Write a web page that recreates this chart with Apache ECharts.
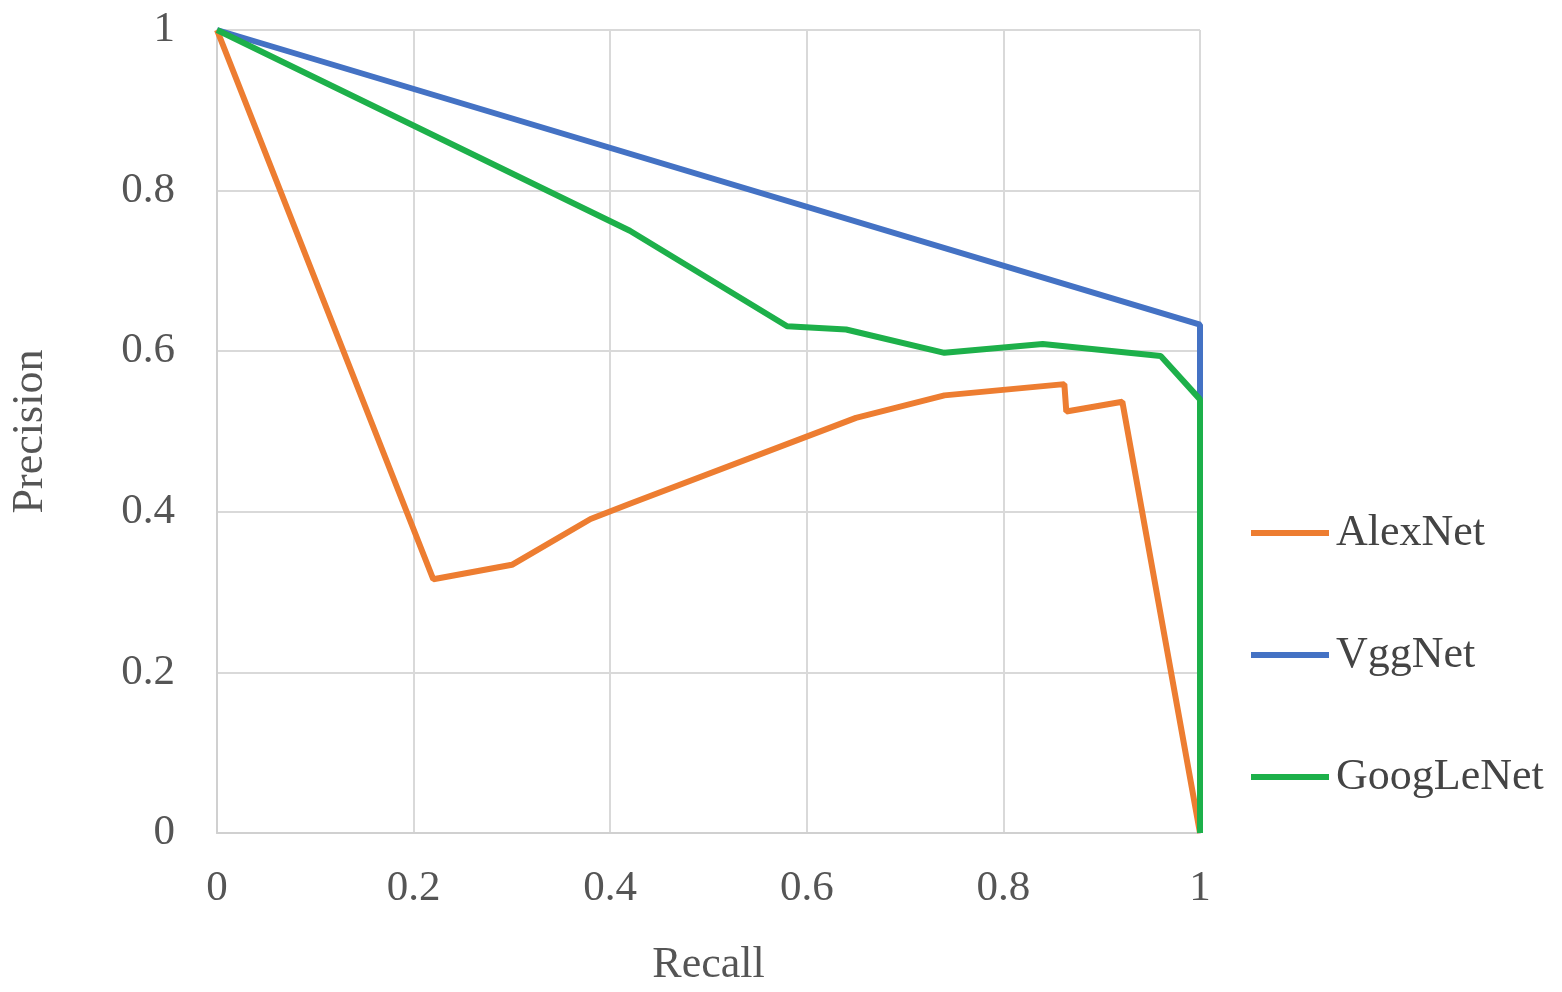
<!DOCTYPE html>
<html>
<head>
<meta charset="utf-8">
<script src="https://cdn.jsdelivr.net/npm/echarts@6/dist/echarts.min.js"></script>
<style>html,body{margin:0;padding:0;background:#fff}#main{width:1562px;height:992px}</style>
</head>
<body>
<div id="main"></div>
<script>
// recall / precision points
const alexRecall = [0, 0.22, 0.30, 0.38, 0.42, 0.65, 0.74, 0.862, 0.864, 0.921, 1];
const alexPrecision = [1, 0.316, 0.334, 0.391, 0.41, 0.517, 0.545, 0.559, 0.525, 0.537, 0];
const vggRecall = [0, 1, 1];
const vggPrecision = [1, 0.633, 0.54];
const googRecall = [0, 0.42, 0.58, 0.64, 0.74, 0.84, 0.96, 1, 1];
const googPrecision = [1, 0.75, 0.631, 0.627, 0.598, 0.609, 0.594, 0.54, 0];
const ticks = [0, 0.2, 0.4, 0.6, 0.8, 1];

const zip = (xs, ys) => xs.map((x, i) => [x, ys[i]]);
const fmt = v => ticks.includes(+v.toFixed(1)) ? String(+v.toFixed(1)) : '';

const chart = echarts.init(document.getElementById('main'));
const font = 'Liberation Serif';
const axisLabel = { fontFamily: font, fontSize: 43, color: '#555', formatter: fmt };

function line(name, color, data) {
  return { name: name, type: 'line', data: data, symbol: 'none', color: color,
           lineStyle: { width: 6, color: color } };
}

chart.setOption({
  backgroundColor: '#fff',
  animation: false,
  grid: { left: 214, right: 362, top: 30, bottom: 154 },
  xAxis: {
    type: 'value', min: 0, max: 1, interval: 0.2,
    name: 'Recall', nameLocation: 'middle', nameGap: 110,
    nameTextStyle: { fontFamily: font, fontSize: 44, color: '#555' },
    axisLine: { lineStyle: { color: '#d0d0d0', width: 2 } },
    axisTick: { show: false },
    axisLabel: Object.assign({ margin: 34 }, axisLabel),
    splitLine: { lineStyle: { color: '#d9d9d9', width: 2 } }
  },
  yAxis: {
    type: 'value', min: 0, max: 1, interval: 0.2,
    name: 'Precision', nameLocation: 'middle', nameGap: 165,
    nameTextStyle: { fontFamily: font, fontSize: 44, color: '#555' },
    axisLine: { show: true, lineStyle: { color: '#d0d0d0', width: 2 } },
    axisTick: { show: false },
    axisLabel: Object.assign({ margin: 42 }, axisLabel),
    splitLine: { lineStyle: { color: '#d9d9d9', width: 2 } }
  },
  legend: {
    orient: 'vertical', left: 1246, top: 506, itemGap: 78,
    icon: 'rect', itemWidth: 78, itemHeight: 6,
    textStyle: { fontFamily: font, fontSize: 44, color: '#444', padding: [0, 0, 0, 2] },
    data: ['AlexNet', 'VggNet', 'GoogLeNet']
  },
  series: [
    line('VggNet', '#4472c4', zip(vggRecall, vggPrecision)),
    line('AlexNet', '#ed7d31', zip(alexRecall, alexPrecision)),
    line('GoogLeNet', '#1db04a', zip(googRecall, googPrecision))
  ]
});
</script>
</body>
</html>
